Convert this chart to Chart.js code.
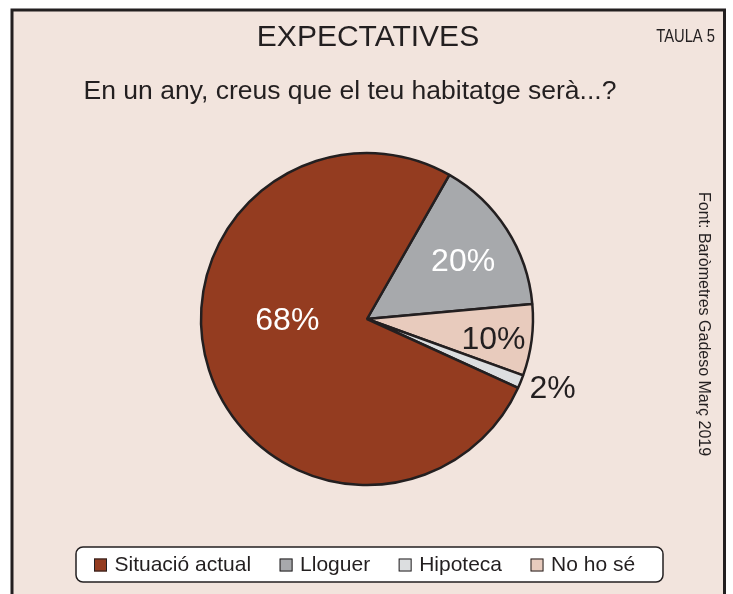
<!DOCTYPE html>
<html>
<head>
<meta charset="utf-8">
<script src="https://cdn.jsdelivr.net/npm/chart.js@4"></script>
<style>
  html, body { margin: 0; padding: 0; background: #fff; }
</style>
</head>
<body>
<canvas id="grafic" width="733" height="594"></canvas>
<script>
// dades (ordre en sentit horari, començant pel Lloguer)
const categories = ['Lloguer', 'No ho sé', 'Hipoteca', 'Situació actual'];
const sliceShare = [15.3, 6.95, 1.3, 76.45];   // mida de cada porció tal com està dibuixada
const pctLabels = ['20%', '10%', '2%', '68%'];
const legendOrder = ['Situació actual', 'Lloguer', 'Hipoteca', 'No ho sé'];

const colors = ['#a7a9ac', '#e8cbbd', '#dcdee0', '#943c20'];
const labelColors = ['#ffffff', '#231f20', '#231f20', '#ffffff'];
// posició de cada etiqueta: angle (graus des de dalt, horari) i distància relativa al radi
const labelPlace = [
  { deg: 58.4, r: 0.68 },
  { deg: 98.1, r: 0.77 },
  { deg: 110, r: 1.19 },
  { deg: 270.7, r: 0.48 }
];

const FONT = '"Liberation Sans", Arial, Helvetica, sans-serif';
const INK = '#231f20';

const fons = {
  id: 'fons',
  beforeDraw(chart) {
    const ctx = chart.ctx;
    ctx.save();
    ctx.fillStyle = '#ffffff';
    ctx.fillRect(0, 0, chart.width, chart.height);
    ctx.fillStyle = '#f2e4dd';
    ctx.fillRect(12, 10, 712.5, 600);
    ctx.strokeStyle = INK;
    ctx.lineWidth = 3;
    ctx.beginPath();
    ctx.moveTo(12, 610);
    ctx.lineTo(12, 10);
    ctx.lineTo(724.5, 10);
    ctx.lineTo(724.5, 610);
    ctx.stroke();
    ctx.restore();
  }
};

const textos = {
  id: 'textos',
  afterDraw(chart) {
    const ctx = chart.ctx;
    ctx.save();
    ctx.fillStyle = INK;
    ctx.textAlign = 'center';
    ctx.textBaseline = 'alphabetic';

    ctx.font = '30px ' + FONT;
    ctx.fillText('EXPECTATIVES', 368, 46);

    ctx.font = '26.5px ' + FONT;
    ctx.fillText('En un any, creus que el teu habitatge serà...?', 350, 98.5);

    // TAULA 5 (lletra estreta)
    ctx.save();
    ctx.translate(715, 42);
    ctx.scale(0.82, 1);
    ctx.textAlign = 'right';
    ctx.font = '18px ' + FONT;
    ctx.fillText('TAULA 5', 0, 0);
    ctx.restore();

    // font vertical
    ctx.save();
    ctx.translate(703, 192);
    ctx.rotate(Math.PI / 2);
    ctx.textAlign = 'left';
    ctx.textBaseline = 'middle';
    ctx.font = '16px ' + FONT;
    ctx.fillText('Font: Baròmetres Gadeso Març 2019', 0, 0);
    ctx.restore();

    ctx.restore();
  }
};

const etiquetes = {
  id: 'etiquetes',
  afterDatasetsDraw(chart) {
    const ctx = chart.ctx;
    const meta = chart.getDatasetMeta(0);
    ctx.save();
    ctx.font = '32px ' + FONT;
    ctx.textAlign = 'center';
    ctx.textBaseline = 'alphabetic';
    meta.data.forEach((arc, i) => {
      const { x, y, outerRadius } = arc.getProps(['x', 'y', 'outerRadius'], true);
      const p = labelPlace[i];
      const a = (p.deg - 90) * Math.PI / 180;
      ctx.fillStyle = labelColors[i];
      // centre de les majúscules al punt calculat
      ctx.fillText(pctLabels[i], x + p.r * outerRadius * Math.cos(a), y + p.r * outerRadius * Math.sin(a) + 11.5);
    });
    ctx.restore();
  }
};

const llegenda = {
  id: 'llegenda',
  afterDraw(chart) {
    const ctx = chart.ctx;
    ctx.save();
    ctx.fillStyle = '#ffffff';
    ctx.strokeStyle = INK;
    ctx.lineWidth = 1.5;
    ctx.beginPath();
    ctx.roundRect(76, 547, 587, 35, 7);
    ctx.fill();
    ctx.stroke();

    ctx.font = '21px ' + FONT;
    ctx.textBaseline = 'middle';
    ctx.textAlign = 'left';
    let x = 94;
    legendOrder.forEach(name => {
      const idx = categories.indexOf(name);
      ctx.fillStyle = colors[idx];
      ctx.fillRect(x, 558.5, 13, 13);
      ctx.lineWidth = 1;
      ctx.strokeStyle = INK;
      ctx.strokeRect(x + 0.5, 559, 12, 12);
      ctx.fillStyle = INK;
      ctx.fillText(name, x + 20.5, 565.5);
      x += 20.5 + ctx.measureText(name).width + 28.5;
    });
    ctx.restore();
  }
};

new Chart(document.getElementById('grafic'), {
  type: 'pie',
  data: {
    labels: categories,
    datasets: [{
      data: sliceShare,
      backgroundColor: colors,
      borderColor: INK,
      borderWidth: 2.5
    }]
  },
  options: {
    responsive: false,
    animation: false,
    rotation: 29.75,
    radius: 166,
    layout: { padding: { top: 100, bottom: 56, left: 1, right: 0 } },
    plugins: {
      legend: { display: false },
      tooltip: { enabled: false }
    }
  },
  plugins: [fons, etiquetes, textos, llegenda]
});
</script>
</body>
</html>
